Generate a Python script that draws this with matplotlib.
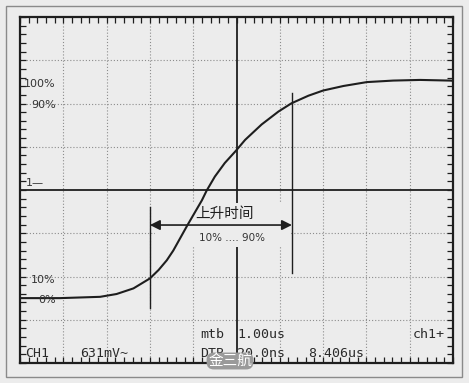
import numpy as np
import matplotlib
matplotlib.use('Agg')
import matplotlib.pyplot as plt
from matplotlib.patches import Rectangle

# --------------------------------------------------------------------------
# Data (time in us, amplitude in % of step)
# --------------------------------------------------------------------------
t_us = [0.0, 0.92, 1.85, 2.23, 2.62, 3.00, 3.20, 3.39, 3.54, 3.86,
        4.20, 4.31, 4.50, 4.73, 4.98, 5.20, 5.58, 5.97, 6.27, 6.66, 7.00, 7.47,
        8.01, 8.62, 9.24, 9.93, 10.0]
level_pct = [0.0, 0.0, 0.6, 1.9, 4.5, 9.1, 13.0, 17.5, 22.0, 33.5,
             45.2, 49.7, 56.2, 62.5, 68.0, 73.2, 80.3, 86.3, 90.1, 93.6, 96.0, 98.1,
             99.9, 100.6, 100.9, 100.6, 100.5]

t10, t90 = 3.0, 6.28          # cursor positions (10% and 90% crossings)
level_labels = ['100%', '90%', '10%', '0%']
level_label_y = [99, 89.5, 8.5, -1.0]

bg = '#ececec'
ink = '#1e1e1e'

fig = plt.figure(figsize=(4.69, 3.83), dpi=100, facecolor=bg)

# outer scan border
fig.patches.append(Rectangle((6 / 469, 1 - 377 / 383), 456 / 469, 371 / 383,
                             transform=fig.transFigure, fill=False,
                             edgecolor='#8a8a8a', linewidth=1.0))

ax = fig.add_axes([20 / 469, 1 - 363 / 383, 433 / 469, 346 / 383])
ax.set_facecolor(bg)
ax.set_xlim(0, 10)
ax.set_ylim(-30, 130)

# frame ticks (5 per division, pointing inward)
ax.set_xticks(np.arange(0, 10.01, 0.2))
ax.set_yticks(np.arange(-30, 130.01, 4))
ax.tick_params(direction='in', length=4, width=0.9, color=ink,
               top=True, right=True, labelbottom=False, labelleft=False)
for s in ax.spines.values():
    s.set_linewidth(1.6)
    s.set_color(ink)

# dotted graticule
for x in range(1, 10):
    if x != 5:
        ax.axvline(x, color='#8c8c8c', linestyle=(0, (1, 1.8)), linewidth=0.8, zorder=1)
for y in [-10, 10, 30, 70, 90, 110]:
    ax.axhline(y, color='#8c8c8c', linestyle=(0, (1, 1.8)), linewidth=0.8, zorder=1)

# solid centre lines
ax.axvline(5, color=ink, linewidth=1.3, zorder=2)
ax.axhline(50, color=ink, linewidth=1.3, zorder=2)

# label area masking the grid
ax.add_patch(Rectangle((3.12, 23.5), 3.12, 20.5, facecolor=bg, edgecolor='none', zorder=3))

# cursors
ax.plot([t10, t10], [-4.6, 42], color=ink, linewidth=1.0, zorder=4)
ax.plot([t90, t90], [11.6, 95], color=ink, linewidth=1.0, zorder=4)

# waveform
ax.plot(t_us, level_pct, color=ink, linewidth=1.5, zorder=5,
        solid_joinstyle='round', solid_capstyle='round')

# rise-time arrow
ax.annotate('', xy=(t10, 33.8), xytext=(t90, 33.8),
            arrowprops=dict(arrowstyle='<|-|>', color=ink, linewidth=1.2,
                            mutation_scale=15, shrinkA=0, shrinkB=0), zorder=6)
ax.text(4.73, 39.0, '上升时间', ha='center', va='center', fontsize=10.5,
        family=['Noto Sans CJK SC', 'DejaVu Sans'], color=ink, zorder=6)
ax.text(4.89, 27.8, '10% .... 90%', ha='center', va='center', fontsize=7.5,
        color='#333333', zorder=6)

# level labels
for lab, y in zip(level_labels, level_label_y):
    ax.text(0.83, y, lab, ha='right', va='center', fontsize=8, color='#333333', zorder=6)
ax.text(0.14, 50.8, '1\u2014', ha='left', va='bottom', fontsize=8, color='#333333', zorder=6)

# status line text
mono = dict(family='DejaVu Sans Mono', fontsize=9.5, color='#2a2a2a', va='baseline', zorder=6)
ax.text(4.16, -18.5, 'mtb', **mono)
ax.text(5.03, -18.5, '1.00us', **mono)
ax.text(9.08, -18.5, 'ch1+', **mono)
ax.text(0.12, -27.0, 'CH1', **mono)
ax.text(1.39, -27.0, '631mV~', **mono)
ax.text(4.16, -27.0, 'DTB', **mono)
ax.text(5.0, -27.0, '20.0ns', **mono)
ax.text(6.65, -27.0, '8.406us', **mono)

# watermark
fig.text(230 / 469, 1 - 361 / 383, '金三航', ha='center', va='center', fontsize=10.5,
         color='white', family=['Noto Sans CJK SC', 'DejaVu Sans'],
         bbox=dict(boxstyle='round,pad=0.1,rounding_size=0.5', facecolor='#9a9a9a',
                   edgecolor='none'), zorder=10)

fig.savefig('out.png', dpi=100, facecolor=bg)
